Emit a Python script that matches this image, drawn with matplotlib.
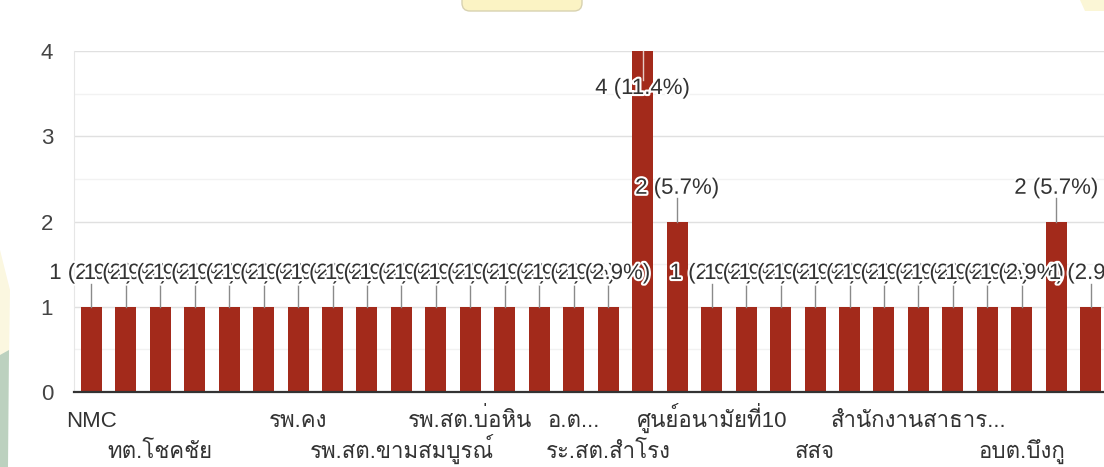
import matplotlib
matplotlib.use("Agg")
import matplotlib.pyplot as plt
import matplotlib.patheffects as pe
import matplotlib.transforms as mtransforms
from matplotlib import font_manager
from matplotlib.ft2font import FT2Font
from matplotlib.patches import FancyBboxPatch, Polygon, Arc

# response counts per bar, left to right
counts = [1, 1, 1, 1, 1, 1, 1, 1, 1, 1,
          1, 1, 1, 1, 1, 1, 4, 2, 1, 1,
          1, 1, 1, 1, 1, 1, 1, 1, 2, 1]
total = sum(counts)

# category names that have room to be printed (index -> label), in two rows
row1_idx = [0, 6, 11, 14, 18, 24]
row1_lbl = ["NMC", "รพ.คง", "รพ.สต.บ่อหิน", "อ.ต...", "ศูนย์อนามัยที่10", "สำนักงานสาธาร..."]
row2_idx = [2, 9, 15, 21, 27]
row2_lbl = ["ทต.โชคชัย", "รพ.สต.ขามสมบูรณ์", "ระ.สต.สำโรง", "สสจ", "อบต.บึงกู"]

y_ticks = [0, 1, 2, 3, 4]


def find_thai_font():
    for f in font_manager.fontManager.ttflist:
        try:
            if 0x0E28 in FT2Font(f.fname).get_charmap():
                return f.name
        except Exception:
            continue
    return None


families = ["Liberation Sans"]
thai = find_thai_font()
if thai:
    families.append(thai)
families.append("DejaVu Sans")
plt.rcParams["font.family"] = families

BAR = "#a32a1b"

fig = plt.figure(figsize=(11.04, 4.67), dpi=100, facecolor="white")

# faint background decoration around the chart panel
W, H = 1104, 467
deco = fig.add_axes([0, 0, 1, 1], zorder=-5)
deco.set_xlim(0, W)
deco.set_ylim(H, 0)
deco.axis("off")
deco.add_patch(FancyBboxPatch((462, -20), 120, 31, boxstyle="round,pad=0,rounding_size=8",
                              fc="#fbf3c4", ec="#d8d2b0", lw=1))
deco.add_patch(Arc((290, -60), 200, 140, theta1=200, theta2=340, color="#dddddd", lw=1.2))
deco.add_patch(Arc((520, -40), 240, 110, theta1=190, theta2=350, color="#e2e2e2", lw=1.2))
deco.add_patch(Arc((760, -80), 320, 180, theta1=200, theta2=340, color="#dddddd", lw=1.2))
deco.add_patch(Polygon([[0, 250], [10, 290], [9, 360], [0, 365]], closed=True,
                       fc="#fbf7e0", ec="none"))
deco.add_patch(Polygon([[0, 355], [9, 350], [8, 467], [0, 467]], closed=True,
                       fc="#bcd1bf", ec="none"))
deco.add_patch(Polygon([[1080, 0], [1104, 0], [1104, 11], [1085, 11]], closed=True,
                       fc="#fbf6d6", ec="none"))

ax = fig.add_axes([74 / W, (H - 392) / H, 1034 / W, 341 / H])
ax.set_facecolor("white")

xs = list(range(len(counts)))
ax.bar(xs, counts, width=0.61, color=BAR, zorder=3)

ax.set_xlim(-0.5, len(counts) - 0.5)
ax.set_ylim(0, 4)

# value labels with short stems; labels that would leave the plot go inside the bar
top = 4
halo = [pe.withStroke(linewidth=3, foreground="white")]
for x, v in zip(xs, counts):
    pct = v / total * 100
    label = f"{v} ({pct:.1f}%)"
    if v + 0.45 > top:
        ax.plot([x, x], [v, v - 0.34], color="#e6c9c4", lw=1, zorder=4, clip_on=False)
        ty = v - 0.44
    else:
        ax.plot([x, x], [v, v + 0.27], color="#8a8a8a", lw=1, zorder=4, clip_on=False)
        ty = v + 0.39
    ax.text(x, ty, label, ha="center", va="center", fontsize=16, color="#333333",
            path_effects=halo, zorder=5, clip_on=False)

# y axis
ax.set_yticks(y_ticks)
ax.set_yticklabels([str(t) for t in y_ticks], fontsize=16, color="#444444")
ax.set_yticks([0.5, 1.5, 2.5, 3.5], minor=True)
ax.tick_params(axis="y", which="both", length=0, pad=15)
ax.grid(axis="y", which="major", color="#e0e0e0", lw=1, zorder=0)
ax.grid(axis="y", which="minor", color="#f2f2f2", lw=1, zorder=0)

# staggered category labels, placed on a common baseline per row
ax.set_xticks([])
base = ax.get_xaxis_transform()
for idx_list, lbl_list, drop in [(row1_idx, row1_lbl, 25.2), (row2_idx, row2_lbl, 47.5)]:
    tr = base + mtransforms.ScaledTranslation(0, -drop / 72, fig.dpi_scale_trans)
    for i, name in zip(idx_list, lbl_list):
        ax.text(i, 0, name, transform=tr, ha="center", va="baseline",
                fontsize=16, color="#333333", clip_on=False)

for side in ["top", "right"]:
    ax.spines[side].set_visible(False)
ax.spines["left"].set_color("#e6e6e6")
ax.spines["bottom"].set_color("#333333")
ax.spines["bottom"].set_linewidth(1.6)
ax.spines["bottom"].set_zorder(6)

fig.savefig("out.png", dpi=100, facecolor="white")
